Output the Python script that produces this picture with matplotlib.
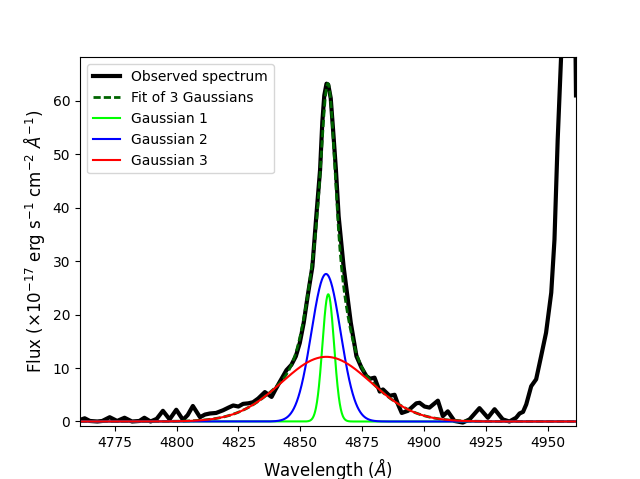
import matplotlib.pyplot as plt
import numpy as np

# observed spectrum
wave_obs = [4761.0, 4762.9, 4765.0, 4768.0, 4770.0, 4773.0, 4776.0, 4779.0, 4782.0,
            4785.0, 4787.0, 4789.5, 4792.0, 4794.5, 4797.2, 4799.9, 4802.6, 4804.5,
            4806.6, 4809.5, 4811.5, 4813.5, 4816.0, 4818.8, 4821.0, 4822.9, 4825.0,
            4826.9, 4829.0, 4830.9, 4833.0, 4835.7, 4838.4, 4840.0, 4841.7, 4844.4,
            4846.4, 4848.2, 4849.8, 4851.4, 4853.0, 4854.9, 4856.4, 4858.0, 4858.9,
            4859.7, 4860.6, 4861.3, 4862.3, 4863.5, 4864.4, 4865.5, 4867.5, 4870.4,
            4872.7, 4874.7, 4876.7, 4878.2, 4880.0, 4882.1, 4883.4, 4886.1, 4888.1,
            4889.5, 4891.0, 4893.5, 4896.9, 4898.2, 4900.2, 4902.2, 4905.6, 4907.6,
            4909.6, 4912.3, 4915.7, 4918.4, 4922.4, 4925.8, 4928.5, 4931.8, 4934.5,
            4937.2, 4938.6, 4940.0, 4941.3, 4943.3, 4945.3, 4947.3, 4949.3, 4951.4,
            4952.7, 4954.0, 4955.4, 4956.5, 4958.5, 4960.5, 4961.4]
flux_obs = [0.3, 0.6, 0.1, 0.0, 0.1, 0.8, 0.1, 0.7, 0.0,
            0.1, 0.7, 0.0, 0.5, 2.0, 0.4, 2.2, 0.3, 1.2,
            2.9, 0.8, 1.3, 1.5, 1.6, 2.1, 2.6, 3.0, 2.8,
            3.3, 3.4, 3.6, 4.3, 5.5, 4.6, 6.0, 7.4, 9.6,
            10.6, 12.2, 14.7, 18.5, 23.5, 29.0, 38.0, 47.1, 56.0,
            61.0, 63.2, 63.0, 60.5, 53.0, 47.1, 38.4, 29.0, 18.5,
            12.2, 10.1, 8.5, 8.0, 8.2, 5.6, 6.0, 4.8, 5.0,
            3.2, 1.6, 2.0, 3.4, 3.5, 2.8, 2.6, 3.9, 1.0,
            1.9, 0.1, -0.2, 0.4, 2.5, 0.7, 2.3, 0.4, 0.0,
            0.7, 1.5, 1.8, 3.2, 6.6, 7.9, 12.2, 16.6, 24.1,
            34.0, 52.7, 68.5, 85.0, 105.0, 100.0, 61.0]

# gaussian components: amplitude, centre, sigma
amp = [23.8, 27.6, 12.1]
cen = [4861.3, 4860.4, 4860.5]
sig = [2.35, 5.9, 18.0]
colores = ['lime', 'blue', 'red']


def gauss(x, a, c, s):
    return a * np.exp(-(x - c) ** 2 / (2 * s ** 2))


x = np.linspace(4761.0, 4961.4, 2000)
comps = [gauss(x, amp[i], cen[i], sig[i]) for i in range(3)]
ajuste = comps[0] + comps[1] + comps[2]

fig, ax = plt.subplots(figsize=(6.4, 4.79), dpi=100)
ax.plot(wave_obs, flux_obs, color='black', lw=3, label='Observed spectrum')
ax.plot(x, ajuste, color='darkgreen', lw=2, linestyle=(0, (2.6, 1.1)), label='Fit of 3 Gaussians')
for i in range(3):
    ax.plot(x, comps[i], color=colores[i], lw=1.5, label='Gaussian %d' % (i + 1))

ax.set_xlim(4761.0, 4961.4)
ax.set_ylim(-0.9, 68.1)
ax.set_xlabel(r'Wavelength ($\AA$)', fontsize=12)
ax.set_ylabel(r'Flux ($\times10^{-17}$ erg s$^{-1}$ cm$^{-2}$ $\AA^{-1}$)', fontsize=12)
ax.legend(loc='upper left')

fig.savefig('out.png')
